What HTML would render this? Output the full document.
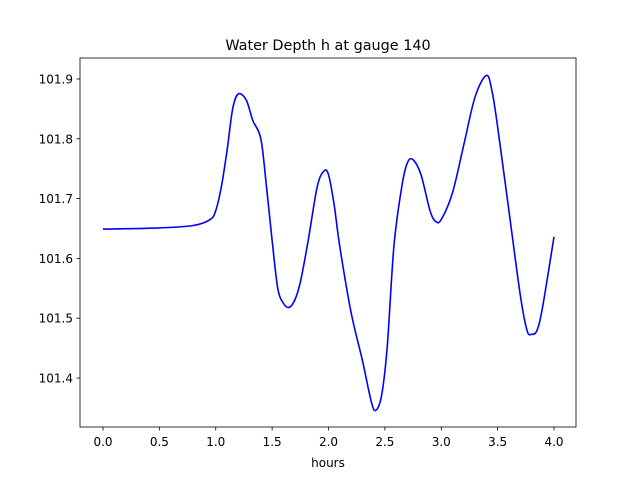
<!DOCTYPE html>
<html><head><meta charset="utf-8"><style>
body{margin:0;background:#fff;font-family:"DejaVu Sans","Liberation Sans",sans-serif;}
svg text{font-family:"DejaVu Sans","Liberation Sans",sans-serif;}
</style></head><body>
<svg id="chart" width="640" height="480" xmlns="http://www.w3.org/2000/svg">
<rect width="640" height="480" fill="#fff"/>
<text x="328" y="50" font-size="14.4" text-anchor="middle">Water Depth h at gauge 140</text>
<g id="ticks"></g>
<path id="line" fill="none" stroke="#0000ff" stroke-width="1.6"/>
<rect x="80" y="58" width="496" height="369" fill="none" stroke="#000" stroke-width="0.8"/>
<text x="328" y="467" font-size="12" text-anchor="middle">hours</text>
</svg>
<script>
const hours=[0,0.5,0.8,0.95,1.0,1.05,1.1,1.15,1.2,1.27,1.33,1.4,1.45,1.5,1.55,1.6,1.65,1.7,1.75,1.82,1.9,1.96,2.0,2.05,2.1,2.2,2.3,2.38,2.42,2.47,2.52,2.58,2.65,2.7,2.75,2.82,2.9,2.95,3.0,3.1,3.2,3.3,3.4,3.45,3.5,3.6,3.7,3.76,3.8,3.85,3.9,4.0];
const depth=[101.649,101.651,101.655,101.665,101.68,101.72,101.78,101.85,101.875,101.865,101.83,101.80,101.72,101.63,101.55,101.525,101.518,101.53,101.56,101.63,101.72,101.746,101.74,101.69,101.62,101.51,101.43,101.36,101.346,101.37,101.45,101.62,101.72,101.76,101.765,101.74,101.68,101.662,101.665,101.71,101.79,101.87,101.906,101.88,101.82,101.68,101.54,101.48,101.473,101.48,101.52,101.636];
const xTicks=[0,0.5,1,1.5,2,2.5,3,3.5,4];
const yTicks=[101.4,101.5,101.6,101.7,101.8,101.9];
const xs=v=>103+v*112.75;
const ys=v=>378-(v-101.4)*598;
const NS="http://www.w3.org/2000/svg";
const g=document.getElementById('ticks');
xTicks.forEach(t=>{
 const l=document.createElementNS(NS,'line');
 
 
 l.setAttribute('x1',xs(t));l.setAttribute('x2',xs(t));l.setAttribute('y1',427);l.setAttribute('y2',430.5);l.setAttribute('stroke','#000');l.setAttribute('stroke-width','0.8');g.appendChild(l);
 const tx=document.createElementNS(NS,'text');
 
 
 tx.setAttribute('x',xs(t));tx.setAttribute('y',446);tx.setAttribute('font-size','12');tx.setAttribute('text-anchor','middle');tx.textContent=t.toFixed(1);g.appendChild(tx);
});
yTicks.forEach(t=>{
 const l=document.createElementNS(NS,'line');
 
 
 l.setAttribute('x1',76.5);l.setAttribute('x2',80);l.setAttribute('y1',ys(t));l.setAttribute('y2',ys(t));l.setAttribute('stroke','#000');l.setAttribute('stroke-width','0.8');g.appendChild(l);
 const tx=document.createElementNS(NS,'text');
 
 
 tx.setAttribute('x',73);tx.setAttribute('y',ys(t)+4.5);tx.setAttribute('font-size','12');tx.setAttribute('text-anchor','end');tx.textContent=t.toFixed(1);g.appendChild(tx);
});
const P=hours.map((h,i)=>[xs(h),ys(depth[i])]);
let d='M'+P[0][0]+','+P[0][1];
for(let i=0;i<P.length-1;i++){
 const p0=P[Math.max(0,i-1)],p1=P[i],p2=P[i+1],p3=P[Math.min(P.length-1,i+2)];
 const c1=[p1[0]+(p2[0]-p0[0])/6,p1[1]+(p2[1]-p0[1])/6];
 const c2=[p2[0]-(p3[0]-p1[0])/6,p2[1]-(p3[1]-p1[1])/6];
 d+=`C${c1[0]},${c1[1]} ${c2[0]},${c2[1]} ${p2[0]},${p2[1]}`;
}
document.getElementById('line').setAttribute('d',d);
</script>
</body></html>
